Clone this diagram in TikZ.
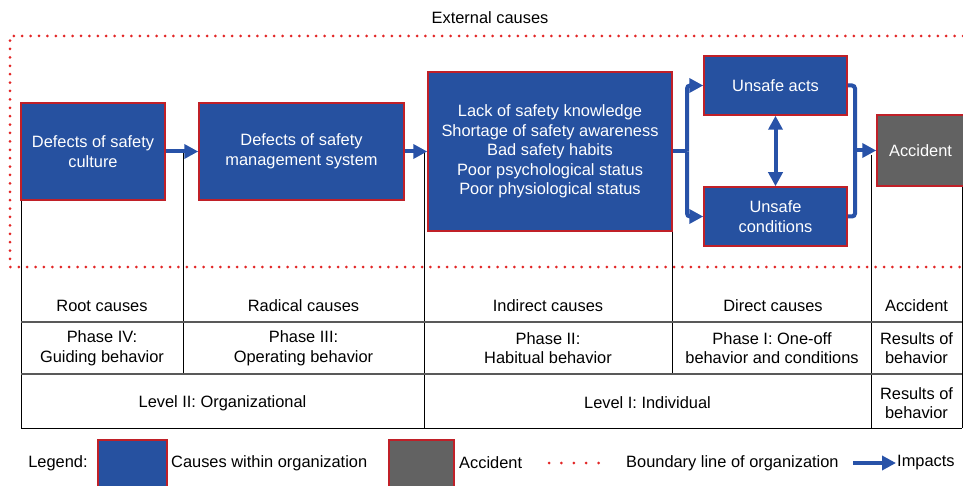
\documentclass[tikz,border=0pt]{standalone}
\usepackage{fontspec}
\setmainfont{Liberation Sans}
\usetikzlibrary{arrows.meta}

\definecolor{causeblue}{RGB}{38,81,160}
\definecolor{edgered}{RGB}{192,32,40}
\definecolor{accgray}{RGB}{98,98,98}
\definecolor{impactblue}{RGB}{40,82,168}
\definecolor{dotred}{RGB}{226,38,38}

\newcommand\dfont{\fontsize{16.4}{19.6}\selectfont}

\tikzset{
  causebox/.style={draw=edgered, line width=1.5pt, fill=causeblue, text=white,
    font=\dfont, align=center, inner sep=0pt},
  accbox/.style={causebox, fill=accgray},
  impact/.style={draw=impactblue, line width=4pt,
    -{Triangle[length=14pt,width=14pt]}},
  bothimpact/.style={draw=impactblue, line width=4pt,
    {Triangle[length=14pt,width=14pt]}-{Triangle[length=14pt,width=14pt]}},
  joinline/.style={draw=impactblue, line width=4pt, rounded corners=3pt},
  boundary/.style={draw=dotred, line width=3pt, line cap=round,
    dash pattern=on 0pt off 8.4pt},
  rule/.style={draw=black, line width=0.9pt},
  hrule/.style={draw=black!65, line width=1.3pt},
  cell/.style={font=\dfont, align=center, inner sep=0pt},
}

\begin{document}
\begin{tikzpicture}[x=1pt, y=-1pt]
\useasboundingbox (0,0) rectangle (963,486);
\clip (0,0) rectangle (963,486);

% organization boundary
\node[cell] (ext) at (490,18) {External causes};
\draw[boundary] (963,36) -- (10,36) -- (10,267) -- (963,267);

% table rules
\draw[rule] (21,200) -- (21,428);
\draw[rule] (183,152) -- (183,374);
\draw[rule] (424,152) -- (424,428);
\draw[rule] (672,217) -- (672,374);
\draw[rule] (871,155) -- (871,428);
\draw[rule] (962,186) -- (962,428);
\draw[hrule] (21,322) -- (962,322);
\draw[hrule] (21,374) -- (962,374);
\draw[rule] (21,428) -- (962,428);

% causal chain
\node[causebox, minimum width=144pt, minimum height=97pt] (culture) at (93,151.5)
  {Defects of safety\\culture};
\node[causebox, minimum width=205pt, minimum height=97pt] (system) at (301.5,151.5)
  {Defects of safety\\management system};
\node[causebox, minimum width=244pt, minimum height=159pt] (indiv) at (550,151.5)
  {Lack of safety knowledge\\Shortage of safety awareness\\Bad safety habits\\Poor psychological status\\Poor physiological status};
\node[causebox, minimum width=143pt, minimum height=59pt] (acts) at (775.5,85.5)
  {Unsafe acts};
\node[causebox, minimum width=143pt, minimum height=59pt] (cond) at (775.5,216.5)
  {Unsafe\\conditions};
\node[accbox, minimum width=90pt, minimum height=71pt] (acc) at (922,150.5)
  {\hspace*{-3pt}Accident};

\draw[impact] (culture.east) -- (system.west);
\draw[impact] (system.east) -- (indiv.west);
\coordinate (split) at (687,151.5);
\draw[joinline] (indiv.east) -- (split);
\draw[impact, rounded corners=3pt] (split) |- (acts.west);
\draw[impact, rounded corners=3pt] (split) |- (cond.west);
\draw[bothimpact] (acts.south) -- (cond.north);
\draw[joinline] (acts.east) -| (855,150) |- (cond.east);
\coordinate (merge) at (855,150.5);
\draw[impact] (merge) -- (acc.west);

% table texts
\node[cell] (r1) at (102,306) {Root causes};
\node[cell] (r2) at (303.5,306) {Radical causes};
\node[cell] (r3) at (548,306) {Indirect causes};
\node[cell] (r4) at (773,306) {Direct causes};
\node[cell] (r5) at (916.5,306) {Accident};

\node[cell] (p1) at (102,348) {Phase IV:\\Guiding behavior};
\node[cell] (p2) at (303.5,348) {Phase III:\\Operating behavior};
\node[cell] (p3) at (548,348) {Phase II:\\Habitual behavior};
\node[cell] (p4) at (772,348) {Phase I: One-off\\behavior and conditions};
\node[cell] (p5) at (916.5,348) {Results of\\behavior};

\node[cell] (l1) at (222.5,403) {Level II: Organizational};
\node[cell] (l2) at (647.5,403) {Level I: Individual};
\node[cell] (l3) at (916.5,403) {Results of\\behavior};

% legend
\node[cell] (leg) at (58,463) {Legend:};
\node[causebox, minimum width=69pt, minimum height=60pt, anchor=north west] (legblue) at (97,439) {};
\node[cell, anchor=west] (legbluetxt) at (171,463) {Causes within organization};
\node[accbox, minimum width=65pt, minimum height=60pt, anchor=north west] (leggray) at (388,439) {};
\node[cell, anchor=west] (leggraytxt) at (459,463) {Accident};
\draw[boundary, dash pattern=on 0pt off 12.4pt] (549,463) -- (600,463);
\node[cell, anchor=west] (legdottxt) at (626,463) {Boundary line of organization};
\coordinate (legarrowA) at (853,463);
\coordinate (legarrowB) at (896,463);
\draw[impact] (legarrowA) -- (legarrowB);
\node[cell, anchor=west] (legarrowtxt) at (897,463) {Impacts};
\end{tikzpicture}
\end{document}
